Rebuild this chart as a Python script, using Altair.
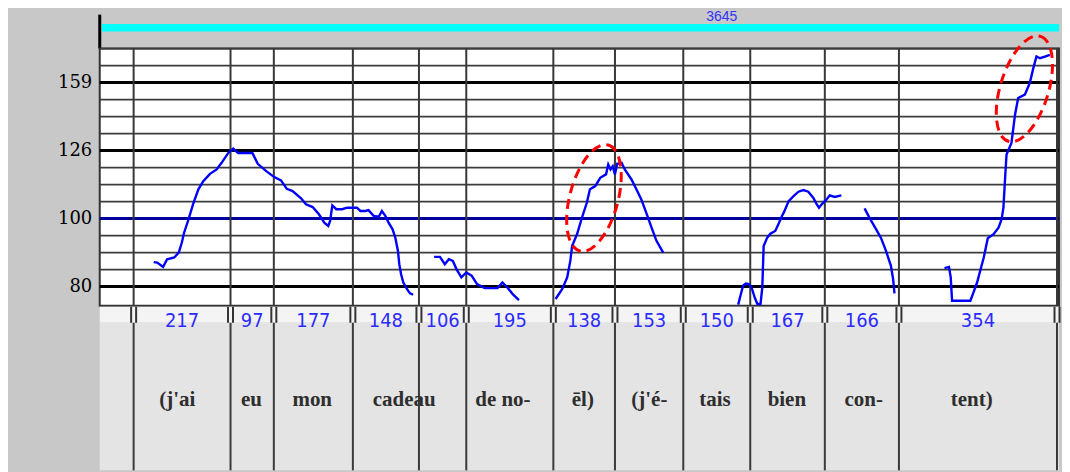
import altair as alt
import pandas as pd

# ---------------- data ----------------
# syllable durations (ms), shown in the strip under the pitch panel
durations = [217, 97, 177, 148, 106, 195, 138, 153, 150, 167, 166, 354]
# transcription words and their centre time (ms)
words = ["(j'ai", "eu", "mon", "cadeau", "de no-", "ēl)", "(j'é-", "tais", "bien", "con-", "tent)"]
word_t = [98, 264, 400, 606, 827, 1006, 1155, 1302, 1463, 1635, 1877]

# header: total duration bar
total_label = "3645"
total_label_t = 1317
bar_start_t = -71
bar_total_ms = 3645

# pitch contour segments: time (ms) and pitch (semitones re 100 Hz)
seg1_t = [45, 53, 66, 75, 91, 101, 108, 113, 123, 133, 145, 156, 171, 186, 197, 212, 223, 234, 253, 266,
          278, 297, 315, 330, 343, 356, 375, 386, 401, 415, 427, 436, 440, 445, 454, 467, 478, 489, 500, 508,
          519, 526, 538, 549, 556, 564, 571, 580, 586, 592, 595, 599, 604, 612, 619, 626]
seg1_st = [-2.56, -2.59, -2.84, -2.39, -2.29, -2.00, -1.41, -0.83, -0.04, 0.84, 1.72, 2.20, 2.63, 2.89, 3.28,
           3.86, 4.12, 3.86, 3.86, 3.86, 3.22, 2.79, 2.44, 2.25, 1.75, 1.62, 1.19, 0.84, 0.68, 0.25, -0.24,
           -0.43, -0.14, 0.77, 0.55, 0.55, 0.64, 0.64, 0.64, 0.45, 0.45, 0.50, 0.15, 0.11, 0.45, 0.15, -0.24,
           -0.63, -1.12, -1.90, -2.68, -3.27, -3.76, -4.14, -4.40, -4.48]
seg2_t = [673, 686, 697, 706, 715, 723, 734, 745, 757, 769, 786, 815, 826, 837, 849, 863]
seg2_st = [-2.25, -2.25, -2.68, -2.39, -2.49, -2.97, -3.46, -3.17, -3.36, -3.85, -4.09, -4.09, -3.76, -4.05,
           -4.44, -4.79]
seg3_t = [945, 960, 971, 978, 982, 993, 1004, 1015, 1022, 1034, 1045, 1058, 1063, 1068, 1073, 1078, 1083,
          1093, 1100, 1115, 1126, 1137, 1148, 1160, 1171, 1186]
seg3_st = [-4.73, -4.14, -3.46, -2.49, -1.61, -0.92, 0.05, 0.93, 1.72, 1.91, 2.40, 2.60, 3.18, 2.89, 3.08,
           2.60, 3.22, 3.28, 2.89, 2.30, 1.72, 1.13, 0.35, -0.53, -1.31, -2.00]
seg4_t = [1354, 1359, 1365, 1371, 1378, 1384, 1391, 1397, 1404, 1408, 1411, 1419, 1426, 1437, 1444, 1452,
          1456, 1467, 1478, 1489, 1500, 1511, 1522, 1530, 1535, 1542, 1552, 1559, 1570, 1585]
seg4_st = [-5.06, -4.54, -3.95, -3.82, -3.85, -4.05, -4.64, -5.02, -5.02, -4.05, -1.61, -1.12, -0.89, -0.73,
           -0.33, 0.15, 0.35, 1.03, 1.32, 1.58, 1.68, 1.58, 1.23, 0.84, 0.64, 0.87, 1.13, 1.37, 1.27, 1.37]
seg5_t = [1637, 1644, 1652, 1663, 1674, 1685, 1696, 1701, 1704]
seg5_st = [0.60, 0.25, -0.14, -0.63, -1.15, -1.90, -2.78, -3.56, -4.40]
seg6_t = [1816, 1826, 1830, 1833, 1844, 1874, 1881, 1889, 1896, 1904, 1913, 1926, 1937, 1944, 1948, 1952,
          1955, 1966, 1974, 1981, 1996, 2007, 2015, 2022, 2030, 2041, 2052]
seg6_st = [-2.91, -2.84, -3.46, -4.83, -4.83, -4.83, -4.34, -3.76, -3.07, -2.29, -1.15, -0.92, -0.53, -0.04,
           0.64, 2.50, 3.77, 4.45, 6.11, 7.09, 7.29, 7.97, 8.85, 9.53, 9.43, 9.53, 9.63]

# dashed annotation ellipses (centre in data units)
ell_t = [1031, 1995]
ell_st = [1.21, 7.63]

# semitone grid and labelled ticks
grid_thin = [-3, -2, -1, 1, 2, 3, 5, 6, 7, 9, 10]
grid_thick = [-4, 4, 8]
ref_line = [0]
tick_st = [-4, 0, 4, 8]
tick_labels = ["80", "100", "126", "159"]

# ---------------- tables ----------------
bounds_ms = [0]
for d in durations:
    bounds_ms.append(bounds_ms[-1] + d)
mids = [(a + b) / 2 for a, b in zip(bounds_ms[:-1], bounds_ms[1:])]

segs = [(seg1_t, seg1_st), (seg2_t, seg2_st), (seg3_t, seg3_st),
        (seg4_t, seg4_st), (seg5_t, seg5_st), (seg6_t, seg6_st)]
rows = []
for i, (ts, ss) in enumerate(segs):
    for t, s in zip(ts, ss):
        rows.append({"seg": i, "t": t, "st": s})
pitch_df = pd.DataFrame(rows)
bound_df = pd.DataFrame({"b": bounds_ms})
dur_df = pd.DataFrame({"mid": mids, "d": [str(d) for d in durations]})
word_df = pd.DataFrame({"t": word_t, "w": words})

# ---------------- scales / axes ----------------
W = 962
X_DOMAIN = [-75.9, 2072.5]
xs = alt.Scale(domain=X_DOMAIN, nice=False, zero=False)
ys = alt.Scale(domain=[-5.13, 10], nice=False, zero=False)

label_expr = "''"
for v, lab in zip(reversed(tick_st), reversed(tick_labels)):
    label_expr = f"datum.value == {v} ? '{lab}' : ({label_expr})"

yaxis = alt.Axis(values=tick_st, labelExpr=label_expr, labelFont="DejaVu Serif", labelFontSize=18,
                 labelColor="black", labelPadding=8, ticks=False, domain=False, grid=False, title=None,
                 minExtent=91, maxExtent=91)


def X(field):
    return alt.X(f"{field}:Q", scale=xs, axis=None)


def Y(field="st"):
    return alt.Y(f"{field}:Q", scale=ys, axis=yaxis)


# ---------------- header ----------------
bar = alt.Chart(pd.DataFrame({"t0": [bar_start_t], "t1": [bar_start_t + bar_total_ms]})).mark_rect(
    color="#00ffff", clip=True).encode(x=X("t0"), x2=alt.X2("t1"), y=alt.value(14.3), y2=alt.value(22))
tickline = alt.Chart(pd.DataFrame({"a": [0]})).mark_rule(color="black", strokeWidth=3).encode(
    x=alt.value(0), y=alt.value(5), y2=alt.value(39))
total_text = alt.Chart(pd.DataFrame({"t": [total_label_t], "label": [total_label]})).mark_text(
    font="Liberation Sans", fontSize=14, color="#3232ff", baseline="alphabetic").encode(
    x=X("t"), y=alt.value(11), text="label:N")
header = alt.layer(bar, tickline, total_text).properties(
    width=W, height=39, view=alt.ViewBackground(fill="#c8c8c8", stroke="transparent"))

# ---------------- pitch panel ----------------
thin = alt.Chart(pd.DataFrame({"st": grid_thin})).mark_rule(color="#3c3c3c", strokeWidth=1.8).encode(y=Y())
thick = alt.Chart(pd.DataFrame({"st": grid_thick})).mark_rule(color="black", strokeWidth=3).encode(y=Y())
ref = alt.Chart(pd.DataFrame({"st": ref_line})).mark_rule(color="#00009c", strokeWidth=3).encode(y=Y())
vlines = alt.Chart(bound_df).mark_rule(color="#383838", strokeWidth=2).encode(x=X("b"))
contour = alt.Chart(pitch_df).mark_line(color="#0000ff", strokeWidth=2.4, clip=True).encode(
    x=X("t"), y=Y("st"), detail="seg:N")

ellipse_path = "M0,-1A0.44,1,0,1,1,0,1A0.44,1,0,1,1,0,-1Z"
ell1 = alt.Chart(pd.DataFrame({"t": ell_t[:1], "st": ell_st[:1]})).mark_point(
    shape=ellipse_path, size=12100, filled=False, color="#ff0000", opacity=1, strokeWidth=3,
    strokeDash=[10, 6], angle=15).encode(x=X("t"), y=Y("st"))
ell2 = alt.Chart(pd.DataFrame({"t": ell_t[1:], "st": ell_st[1:]})).mark_point(
    shape=ellipse_path, size=12100, filled=False, color="#ff0000", opacity=1, strokeWidth=3,
    strokeDash=[10, 6], angle=17).encode(x=X("t"), y=Y("st"))

pitch_panel = alt.layer(thin, thick, ref, vlines, contour, ell1, ell2).properties(
    width=W, height=258, view=alt.ViewBackground(fill="white", stroke="#333333", strokeWidth=2))

# ---------------- syllable panel ----------------
LH = 165
one = pd.DataFrame({"a": [0]})
strip = alt.Chart(one).mark_rect(color="#f4f4f4").encode(
    x=alt.value(0), x2=alt.value("width"), y=alt.value(1), y2=alt.value(17))
box = alt.Chart(one).mark_rect(color="#e4e4e4").encode(
    x=alt.value(0), x2=alt.value("width"), y=alt.value(17), y2=alt.value(LH))
blines = alt.Chart(bound_df).mark_rule(color="#3a3a3a", strokeWidth=2).encode(
    x=X("b"), y=alt.value(17), y2=alt.value(LH))
bars_l = alt.Chart(bound_df).mark_rule(color="#333333", strokeWidth=2, xOffset=-2.5).encode(
    x=X("b"), y=alt.value(1), y2=alt.value(17))
bars_r = alt.Chart(bound_df).mark_rule(color="#333333", strokeWidth=2, xOffset=2.5).encode(
    x=X("b"), y=alt.value(1), y2=alt.value(17))
dur_text = alt.Chart(dur_df).mark_text(
    font="Liberation Sans Narrow, DejaVu Sans Condensed, Liberation Sans", fontSize=20, color="#2b2bff",
    baseline="alphabetic").encode(x=X("mid"), y=alt.value(21.5), text="d:N")
word_text = alt.Chart(word_df).mark_text(
    font="Liberation Serif", fontWeight="bold", fontSize=21, color="#2e2e2e", baseline="alphabetic").encode(
    x=X("t"), y=alt.value(100), text="w:N")
lower = alt.layer(strip, box, blines, bars_l, bars_r, dur_text, word_text).properties(
    width=W, height=LH, view=alt.ViewBackground(stroke="transparent"))

chart = alt.vconcat(header, pitch_panel, lower, spacing=0, bounds="flush").properties(
    background="#c8c8c8", padding=0)

chart.save("out.html", embed_options={"renderer": "svg", "actions": False})
